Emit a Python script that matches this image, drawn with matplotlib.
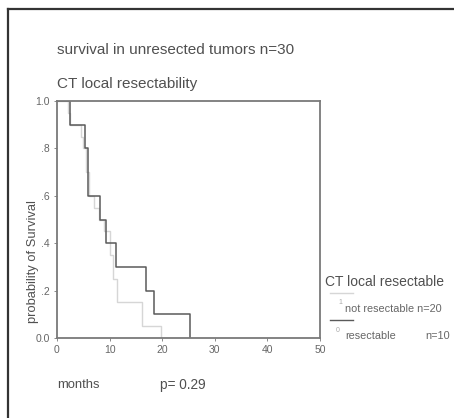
import matplotlib
matplotlib.use("Agg")
import matplotlib.pyplot as plt
from matplotlib.lines import Line2D

plt.rcParams['font.family'] = ['Liberation Sans', 'DejaVu Sans']

# Kaplan-Meier steps
t_res = [0, 2.5, 5.3, 5.9, 8.2, 9.4, 11.3, 17.0, 18.4, 25.2]
s_res = [1.0, 0.9, 0.8, 0.6, 0.5, 0.4, 0.3, 0.2, 0.1, 0.0]

t_non = [0, 2.0, 2.5, 4.5, 5.0, 5.5, 6.0, 7.0, 8.0, 9.0, 10.0, 10.6, 11.4, 16.2, 19.8]
s_non = [1.0, 0.95, 0.9, 0.85, 0.8, 0.7, 0.6, 0.55, 0.5, 0.45, 0.35, 0.25, 0.15, 0.05, 0.0]

xticks = [0, 10, 20, 30, 40, 50]
yticks = [0.0, 0.2, 0.4, 0.6, 0.8, 1.0]
ytick_labels = ["0.0", ".2", ".4", ".6", ".8", "1.0"]

W, H = 454, 418
fig = plt.figure(figsize=(W / 100, H / 100), dpi=100)

def fx(px):
    return px / W

def fy(py):
    return 1 - py / H

txt = "#505050"

# outer frame (top and left only)
fig.add_artist(Line2D([fx(8), 1], [fy(9), fy(9)], color="#333333", lw=1.6))
fig.add_artist(Line2D([fx(8), fx(8)], [fy(9), 0], color="#333333", lw=1.6))

ax = fig.add_axes([fx(57), fy(338), fx(320) - fx(57), fy(101) - fy(338)])
ax.step(t_non, s_non, where="post", color="#d6d6d6", lw=1.0)
ax.step(t_res, s_res, where="post", color="#5a5a5a", lw=1.1)
ax.set_xlim(0, 50)
ax.set_ylim(0, 1.0)
ax.set_xticks(xticks)
ax.set_xticklabels([str(v) for v in xticks])
ax.set_yticks(yticks)
ax.set_yticklabels(ytick_labels)
ax.tick_params(labelsize=7.5, length=2, width=0.6, color="#777777", labelcolor="#666666", pad=3)
for sp in ax.spines.values():
    sp.set_color("#7a7a7a")
    sp.set_linewidth(1.3)

fig.text(fx(57), fy(50), "survival in unresected tumors n=30", fontsize=11, color=txt, va="center")
fig.text(fx(57), fy(84), "CT local resectability", fontsize=11, color=txt, va="center")
fig.text(fx(33), fy(262), "probability of Survival", fontsize=9.3, color=txt, rotation=90, ha="center", va="center")
fig.text(fx(57), fy(385), "months", fontsize=9.4, color=txt, va="center")
fig.text(fx(160), fy(385), "p= 0.29", fontsize=9.8, color=txt, va="center")

# legend
fig.text(fx(325), fy(282), "CT local resectable", fontsize=10, color=txt, va="center")
fig.add_artist(Line2D([fx(330), fx(353)], [fy(293), fy(293)], color="#d6d6d6", lw=1.0))
fig.text(fx(338), fy(303), "1", fontsize=5, color="#aaaaaa", va="center")
fig.text(fx(345), fy(309), "not resectable n=20", fontsize=7.8, color="#666666", va="center")
fig.add_artist(Line2D([fx(330), fx(353)], [fy(320), fy(320)], color="#5a5a5a", lw=1.0))
fig.text(fx(336), fy(330), "0", fontsize=5, color="#aaaaaa", va="center")
fig.text(fx(345), fy(336), "resectable", fontsize=7.8, color="#666666", va="center")
fig.text(fx(425), fy(336), "n=10", fontsize=7.8, color="#666666", va="center")

fig.savefig("out.png", dpi=100)
